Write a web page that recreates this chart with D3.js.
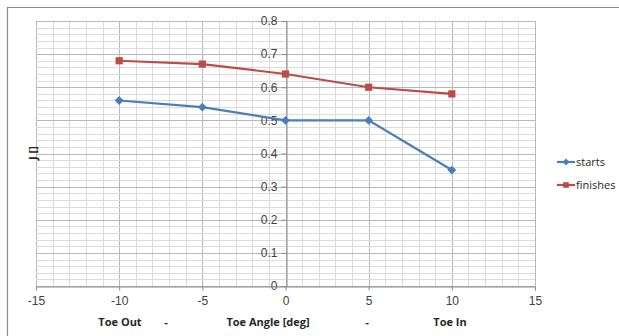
<!DOCTYPE html>
<html>
<head>
<meta charset="utf-8">
<script src="https://cdn.jsdelivr.net/npm/d3@7"></script>
<style>
  body { margin: 0; background: #fff; }
  svg { display: block; font-family: "Open Sans", "Noto Sans", sans-serif; }
</style>
</head>
<body>
<svg id="chart" width="619" height="336"></svg>
<script>
// Toe angle (deg) against J for starts and finishes
const toeAngles = [-10, -5, 0, 5, 10];
const starts = [0.56, 0.54, 0.50, 0.50, 0.35];
const finishes = [0.68, 0.67, 0.64, 0.60, 0.58];
const xTicks = [-15, -10, -5, 0, 5, 10, 15];
const yTicks = [0, 0.1, 0.2, 0.3, 0.4, 0.5, 0.6, 0.7, 0.8];
const seriesNames = ["starts", "finishes"];
const seriesColors = ["#4a7ebb", "#be4b48"];

const svg = d3.select("#chart");

// chart frame (left and top edges)
svg.append("path")
  .attr("d", "M7.5,336 L7.5,7.5 L619,7.5")
  .attr("fill", "none").attr("stroke", "#8c8c8c").attr("stroke-width", 1.2);

const x = d3.scaleLinear().domain([-15, 15]).range([36, 535]);
const y = d3.scaleLinear().domain([0, 0.8]).range([286, 21]);

const grid = svg.append("g");
// vertical gridlines every 1 deg, stronger every 5
grid.selectAll(".vmin").data(d3.range(-15, 15.01, 1))
  .join("line")
  .attr("x1", d => Math.round(x(d)) + 0.5).attr("x2", d => Math.round(x(d)) + 0.5)
  .attr("y1", y(0.8)).attr("y2", y(0))
  .attr("stroke", d => d % 5 === 0 ? "#b8b8b8" : "#dcdcdc").attr("stroke-width", 1);
// horizontal gridlines every 0.02, stronger every 0.1
grid.selectAll(".hmin").data(d3.range(0, 41))
  .join("line")
  .attr("x1", x(-15)).attr("x2", x(15))
  .attr("y1", d => Math.round(y(d * 0.02)) + 0.5).attr("y2", d => Math.round(y(d * 0.02)) + 0.5)
  .attr("stroke", d => d % 5 === 0 ? "#b8b8b8" : "#dcdcdc").attr("stroke-width", 1);

// y axis at x = 0
const yAxis = d3.axisLeft(y).tickValues(yTicks).tickSize(5).tickPadding(4)
  .tickFormat(d => d === 0 ? "0" : d3.format(".1f")(d));
const gy = svg.append("g").attr("transform", `translate(${Math.round(x(0)) + 0.5},0)`).call(yAxis);
gy.select(".domain").attr("stroke", "#8c8c8c");
gy.selectAll(".tick line").attr("stroke", "#8c8c8c");
gy.selectAll("text").attr("font-size", 12).attr("fill", "#404040");

// x axis at y = 0, plain hyphen for negatives
const xAxis = d3.axisBottom(x).tickValues(xTicks).tickSize(4).tickPadding(6)
  .tickFormat(d => String(d));
const gx = svg.append("g").attr("transform", `translate(0,${Math.round(y(0)) + 0.5})`).call(xAxis);
gx.select(".domain").attr("stroke", "#8c8c8c");
gx.selectAll(".tick line").attr("stroke", "#8c8c8c");
gx.selectAll("text").attr("font-size", 12).attr("fill", "#404040");

// axis titles
svg.append("text")
  .attr("transform", "translate(37,153) rotate(-90)")
  .attr("text-anchor", "middle").attr("font-size", 11).attr("font-weight", "bold")
  .attr("fill", "#262626").text("J []");

const xTitleParts = [
  { t: "Toe Out", cx: 120 },
  { t: "-", cx: 166 },
  { t: "Toe Angle [deg]", cx: 268 },
  { t: "-", cx: 367 },
  { t: "Toe In", cx: 450 }
];
svg.append("g").selectAll("text").data(xTitleParts).join("text")
  .attr("x", d => d.cx).attr("y", 326)
  .attr("text-anchor", "middle").attr("font-size", 11).attr("font-weight", "bold")
  .attr("fill", "#262626").text(d => d.t);

// series lines and markers
const line = d3.line().x((d, i) => x(toeAngles[i])).y(d => y(d));
const allSeries = [starts, finishes];
allSeries.forEach((vals, si) => {
  svg.append("path").datum(vals)
    .attr("d", line).attr("fill", "none")
    .attr("stroke", seriesColors[si]).attr("stroke-width", 2.2);
});
const diamond = d3.symbol().type(d3.symbolDiamond2).size(50);
const square = d3.symbol().type(d3.symbolSquare).size(52);
svg.append("g").selectAll("path").data(starts).join("path")
  .attr("transform", (d, i) => `translate(${x(toeAngles[i])},${y(d)})`)
  .attr("d", diamond).attr("fill", seriesColors[0]);
svg.append("g").selectAll("path").data(finishes).join("path")
  .attr("transform", (d, i) => `translate(${x(toeAngles[i])},${y(d)})`)
  .attr("d", square).attr("fill", seriesColors[1]);

// legend
const legend = svg.append("g").selectAll("g").data(seriesNames).join("g")
  .attr("transform", (d, i) => `translate(557,${162 + i * 23})`);
legend.append("line").attr("x1", 0).attr("x2", 18).attr("y1", 0).attr("y2", 0)
  .attr("stroke", (d, i) => seriesColors[i]).attr("stroke-width", 2.2);
legend.append("path").attr("transform", "translate(9,0)")
  .attr("d", (d, i) => i === 0 ? d3.symbol().type(d3.symbolDiamond2).size(30)() : d3.symbol().type(d3.symbolSquare).size(32)())
  .attr("fill", (d, i) => seriesColors[i]);
legend.append("text").attr("x", 19).attr("y", 4).attr("font-size", 11)
  .attr("fill", "#262626").text(d => d);
</script>
</body>
</html>
